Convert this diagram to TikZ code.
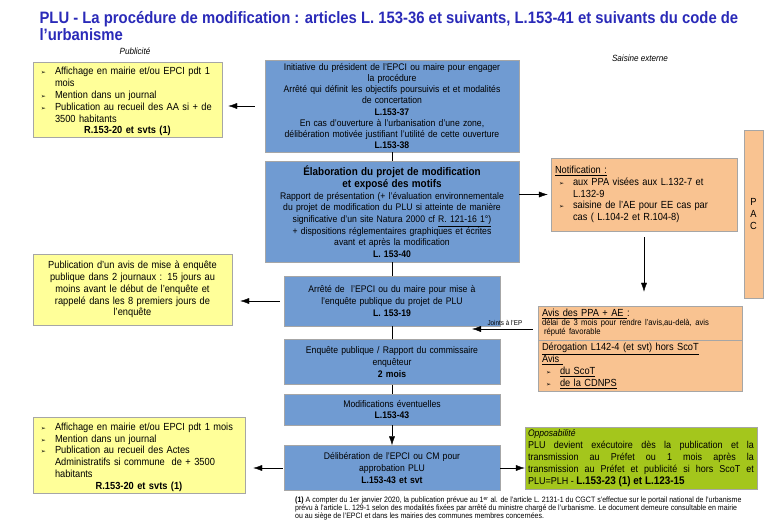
\documentclass[tikz,border=0pt]{standalone}
\usepackage{fontspec}
\setmainfont{Liberation Sans}[FakeStretch=0.9]
\newfontfamily\symb{DejaVu Sans}
\usetikzlibrary{positioning}
\usetikzlibrary{arrows.meta}
\definecolor{titleblue}{HTML}{2A2AB8}
\definecolor{boxblue}{HTML}{709BD2}
\definecolor{boxyellow}{HTML}{FFFF99}
\definecolor{boxorange}{HTML}{F9C391}
\definecolor{boxgreen}{HTML}{A4C61C}
\newcommand{\itm}{\par\noindent\hangindent=18pt\hangafter=1\hbox to 18pt{\hspace{4pt}{\symb\fontsize{6}{6}\selectfont ➢}\hfil}}

\begin{document}
\begin{tikzpicture}
    [
    x=1pt,y=-1pt,
    texte/.style={font=\fontsize{9.6}{11.6}\selectfont},
    cote/.style={font=\fontsize{10.3}{11.8}\selectfont},
    etape/.style={texte,draw=gray!70,fill=boxblue,align=center,inner xsep=2pt,inner ysep=0.5pt},
    pub/.style={cote,draw=gray!70,fill=boxyellow,inner xsep=4pt,inner ysep=1pt},
    ext/.style={cote,draw=gray!70,fill=boxorange,inner xsep=4pt,inner ysep=1pt},
    fleche/.style={-{Latex[length=9pt,width=6pt]}},
    ]
    \useasboundingbox (0,0) rectangle (780,529);

    \node (titre) at (36,8) [anchor=north west,align=left,text=titleblue,font=\fontsize{16.5}{17}\selectfont\bfseries]
      {PLU - La procédure de modification : articles L. 153-36 et suivants, L.153-41 et suivants du code de\\l'urbanisme};
    \node (publicite) at (135,51) [font=\fontsize{9}{10}\selectfont\itshape] {Publicité};
    \node (saisine) at (640,58) [font=\fontsize{9}{10}\selectfont\itshape] {Saisine externe};

    \node (init) at (392,106) [etape,font=\fontsize{9.6}{11.1}\selectfont,minimum width=254,minimum height=92,text width=250]
      {Initiative du président de l'EPCI ou maire pour engager\\la procédure\\Arrêté qui définit les objectifs poursuivis et et modalités\\de concertation\\\textbf{L.153-37}\\En cas d'ouverture à l'urbanisation d'une zone,\\délibération motivée justifiant l'utilité de cette ouverture\\\textbf{L.153-38}};
    \node (elab) at (392,211.5) [etape,minimum width=254,minimum height=101,text width=250]
      {{\fontsize{11}{12.5}\selectfont\bfseries Élaboration du projet de modification\\et exposé des motifs\par}
       Rapport de présentation (+ l'évaluation environnementale\\du projet de modification du PLU si atteinte de manière\\significative d'un site Natura 2000 cf \underline{R. 121-16 1°)}\\+ dispositions réglementaires graphiques et écrites\\avant et après la modification\\\textbf{L. 153-40}};
    \node (arrete) at (392,301) [etape,minimum width=216,minimum height=50,text width=212]
      {Arrêté de \ l'EPCI ou du maire pour mise à\\l'enquête publique du projet de PLU\\\textbf{L. 153-19}};
    \node (enquete) at (392,362) [etape,minimum width=216,minimum height=45,text width=212]
      {Enquête publique / Rapport du commissaire\\enquêteur\\\textbf{2 mois}};
    \node (modif) at (392,409.5) [etape,minimum width=216,minimum height=31,text width=212]
      {Modifications éventuelles\\\textbf{L.153-43}};
    \node (delib) at (392,468) [etape,minimum width=216,minimum height=45,text width=212]
      {Délibération de l'EPCI ou CM pour\\approbation PLU\\\textbf{L.153-43 et svt}};

    \node (pub1) at (127.5,99.5) [pub,align=left,minimum width=189,minimum height=71,text width=181]
      {\itm Affichage en mairie et/ou EPCI pdt 1\newline mois
       \itm Mention dans un journal
       \itm Publication au recueil des AA si + de\newline 3500 habitants
       \par{\centering\textbf{R.153-20 et svts (1)}\par}};
    \node (pub2) at (132.5,289.5) [pub,align=center,minimum width=199,minimum height=71,text width=191]
      {Publication d'un avis de mise à enquête\\publique dans 2 journaux : 15 jours au\\moins avant le début de l'enquête et\\rappelé dans les 8 premiers jours de\\l'enquête};
    \node (pub3) at (139,455) [pub,align=left,minimum width=212,minimum height=76,text width=204]
      {\itm Affichage en mairie et/ou EPCI pdt 1 mois
       \itm Mention dans un journal
       \itm Publication au recueil des Actes\newline Administratifs si commune \ de + 3500\newline habitants
       \par{\centering\textbf{R.153-20 et svts (1)}\par}};

    \node (notif) at (644,194.5) [ext,align=left,minimum width=186,minimum height=73,text width=178]
      {\underline{Notification :}
       \itm aux PPA visées aux L.132-7 et\newline L.132-9
       \itm saisine de l'AE pour EE cas par\newline cas ( L.104-2 et R.104-8)\par\vspace{6pt}};
    \node (pac) at (753.5,214) [ext,align=center,minimum width=19,minimum height=168,inner sep=0pt] {P\\A\\C};
    \node (avisppa) at (640,323) [ext,align=left,minimum width=204,minimum height=34,text width=196,inner ysep=1.5pt]
      {\underline{Avis des PPA + AE\ }:\par
       {\fontsize{8.5}{9}\selectfont délai de 3 mois pour rendre l'avis,au-delà, avis\\\hspace*{2pt}réputé favorable\par}};
    \node (derog) [ext,align=left,minimum width=204,minimum height=51,text width=196,inner ysep=2pt,below=0pt of avisppa]
      {\underline{Dérogation L142-4 (et svt) hors ScoT}\\\underline{Avis\ }
       \itm \underline{du ScoT}
       \itm \underline{de la CDNPS}};
    \node (oppo) at (641,458) [draw=gray!70,fill=boxgreen,align=justify,minimum width=232,minimum height=62,text width=226,inner xsep=3pt,inner ysep=2pt,font=\fontsize{10}{12}\selectfont]
      {{\itshape\fontsize{9.5}{11}\selectfont Opposabilité\par}
       PLU devient exécutoire dès la publication et la\linebreak transmission au Préfet ou 1 mois après la\linebreak transmission au Préfet et publicité si hors ScoT et\linebreak PLU=PLH - {\fontsize{11}{12}\selectfont\bfseries L.153-23 (1) et L.123-15}};

    \node (note) at (295,497) [anchor=north west,align=left,inner sep=0pt,font=\fontsize{7.8}{8}\selectfont]
      {\textbf{(1)} A compter du 1er janvier 2020, la publication prévue au 1\textsuperscript{er} al. de l'article L. 2131-1 du CGCT s'effectue sur le portail national de l'urbanisme\\prévu à l'article L. 129-1 selon des modalités fixées par arrêté du ministre chargé de l'urbanisme. Le document demeure consultable en mairie\\ou au siège de l'EPCI et dans les mairies des communes membres concernées.};

    \draw (init) -- (elab);
    \draw (elab) -- (arrete);
    \draw (arrete) -- (enquete);
    \draw (enquete) -- (modif);
    \draw [fleche] (modif) -- (delib);

    \draw [fleche,shorten <=10pt,shorten >=6pt] (init.west) -- (init.west -| pub1.east);
    \draw [fleche,shorten <=4pt,shorten >=8pt] (arrete.west) -- (arrete.west -| pub2.east);
    \draw [fleche,shorten <=1pt,shorten >=8pt] (delib.west) -- (delib.west -| pub3.east);
    \draw [fleche] (delib.east) -- (delib.east -| oppo.west);

    \draw [fleche,shorten >=3pt] (notif.west -| elab.east) -- (notif.west);
    \draw [fleche,shorten <=6pt,shorten >=14pt] (notif.south) -- (notif.south |- avisppa.north);
    \coordinate (ep) at (472,329);
    \draw [fleche,shorten <=5pt] (avisppa.west |- ep) -- (ep) node [midway,above,font=\fontsize{7}{7}\selectfont] {Joints à l'EP};
  \end{tikzpicture}
\end{document}
